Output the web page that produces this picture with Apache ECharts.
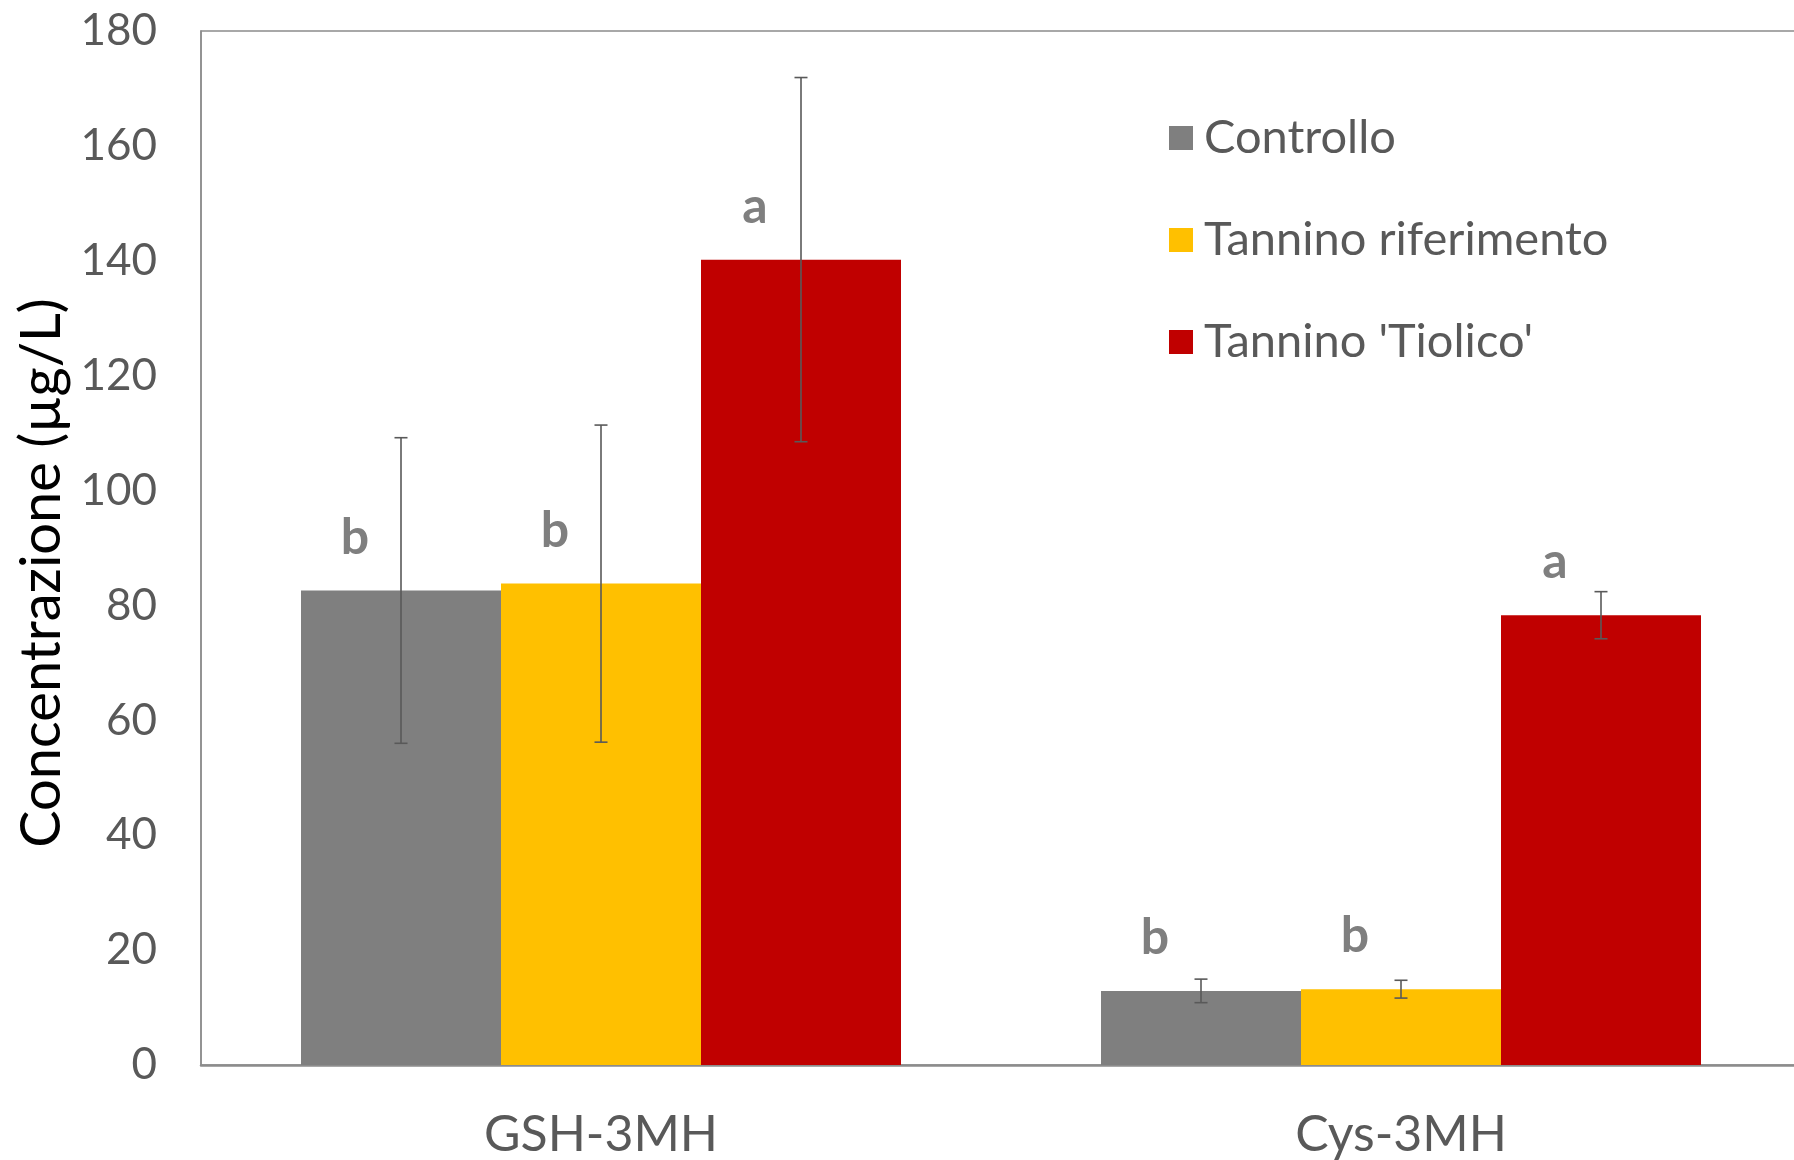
<!DOCTYPE html>
<html>
<head>
<meta charset="utf-8">
<script src="https://cdn.jsdelivr.net/npm/echarts@6/dist/echarts.min.js"></script>
<style>html,body{margin:0;padding:0;background:#fff;}#c{width:1794px;height:1160px;}</style>
</head>
<body>
<div id="c"></div>
<script>
const categories = ['GSH-3MH', 'Cys-3MH'];
const seriesNames = ['Controllo', 'Tannino riferimento', "Tannino 'Tiolico'"];
const controllo = [82.6, 12.9];
const riferimento = [83.8, 13.2];
const tiolico = [140.2, 78.3];
const errControllo = [26.6, 2.05];
const errRiferimento = [27.6, 1.55];
const errTiolico = [31.7, 4.1];
const lettersControllo = ['b', 'b'];
const lettersRiferimento = ['b', 'b'];
const lettersTiolico = ['a', 'a'];
const yTicks = [0, 20, 40, 60, 80, 100, 120, 140, 160, 180];
const yAxisTitle = 'Concentrazione (µg/L)';

const colors = ['#7f7f7f', '#ffc000', '#c00000'];
const FONT = 'Lato';
const means = [controllo, riferimento, tiolico];
const errs = [errControllo, errRiferimento, errTiolico];
const letters = [lettersControllo, lettersRiferimento, lettersTiolico];

const errData = [];
means.forEach((m, si) => {
  m.forEach((v, ci) => {
    errData.push([ci, v - errs[si][ci], v + errs[si][ci], si]);
  });
});

const chart = echarts.init(document.getElementById('c'), null, {renderer: 'canvas'});

const barSeries = seriesNames.map((name, si) => ({
  name: name,
  type: 'bar',
  data: means[si],
  barGap: '0%',
  barCategoryGap: '25%',
  itemStyle: {color: colors[si]},
  label: {
    show: true,
    position: 'top',
    distance: 28,
    offset: [-46, 0],
    formatter: (p) => letters[si][p.dataIndex],
    fontFamily: FONT,
    fontWeight: 'bold',
    fontSize: 50,
    color: '#7f7f7f'
  },
  z: 2
}));

const option = {
  backgroundColor: '#ffffff',
  animation: false,
  grid: {left: 201, top: 31, width: 1600, height: 1034, show: true, borderColor: '#8c8c8c', borderWidth: 1.5,
    backgroundColor: 'transparent', outerBoundsMode: 'none', containLabel: false},
  legend: {
    data: seriesNames,
    orient: 'vertical',
    left: 1169,
    top: 113,
    padding: 0,
    itemWidth: 24,
    itemHeight: 24,
    itemGap: 52,
    icon: 'rect',
    textStyle: {fontFamily: FONT, fontSize: 47, color: '#595959', lineHeight: 50, padding: [0, 0, 0, 6]}
  },
  graphic: [{
    type: 'text',
    x: 42,
    y: 573,
    rotation: Math.PI / 2,
    style: {text: yAxisTitle, fontFamily: FONT, fontSize: 56, fill: '#000000', align: 'center', verticalAlign: 'middle'}
  }],
  xAxis: {
    type: 'category',
    data: categories,
    axisLine: {show: true, lineStyle: {color: '#8c8c8c', width: 2.5}},
    axisTick: {show: false},
    axisLabel: {fontFamily: FONT, fontSize: 50, color: '#595959', margin: 45},
    splitLine: {show: false}
  },
  yAxis: {
    type: 'value',
    min: 0,
    max: 180,
    interval: 20,
    axisLine: {show: true, lineStyle: {color: '#8c8c8c', width: 1.5}},
    axisTick: {show: false},
    axisLabel: {fontFamily: FONT, fontSize: 44, color: '#595959', margin: 44,
      formatter: (v) => yTicks.includes(v) ? String(v) : ''},
    splitLine: {show: false}
  },
  series: barSeries.concat([{
    type: 'custom',
    name: 'err',
    data: errData,
    encode: {x: 0, y: [1, 2]},
    z: 5,
    silent: true,
    renderItem: function (params, api) {
      const cat = api.value(0), lo = api.value(1), hi = api.value(2), idx = api.value(3);
      const band = api.size([1, 0])[0];
      const bw = band * 0.75 / 3;
      const x = api.coord([cat, 0])[0] + (idx - 1) * bw;
      const yLo = api.coord([cat, lo])[1];
      const yHi = api.coord([cat, hi])[1];
      const cap = 6.5;
      const st = {stroke: '#595959', lineWidth: 1.6};
      return {type: 'group', children: [
        {type: 'line', shape: {x1: x, y1: yLo, x2: x, y2: yHi}, style: st},
        {type: 'line', shape: {x1: x - cap, y1: yHi, x2: x + cap, y2: yHi}, style: st},
        {type: 'line', shape: {x1: x - cap, y1: yLo, x2: x + cap, y2: yLo}, style: st}
      ]};
    }
  }])
};
chart.setOption(option);
</script>
</body>
</html>
